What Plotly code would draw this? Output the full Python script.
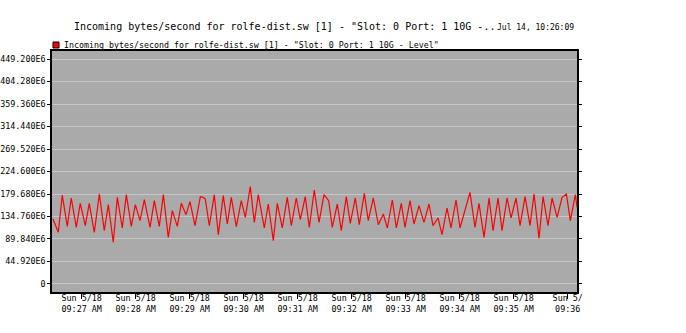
import pandas as pd
import plotly.graph_objects as go

# seconds offset from 09:27:00 and values in units of 1E6 bytes/second
sec = [-32, -26, -21.6, -16, -11.6, -6, -1.6, 4, 8.4, 14, 19.6, 25.1, 29.6, 35.1, 39.6, 45.1, 49.6, 55.1,
       59.6, 64.8, 69.6, 75.9, 80.7, 86.2, 90.7, 96.2, 100.7, 106.2, 110.7, 115.9, 120.3, 125.9, 131.8,
       134.8, 137.3, 141.8, 147.3, 151.8, 157.3, 161.8, 166.2, 171.8, 177.3, 181.8, 187.3, 191.8, 196.2,
       202.9, 207.3, 212.9, 217.3, 222.9, 228.4, 232.9, 238.4, 242.9, 248.4, 252.9, 258.4, 263.7, 269.2,
       272.6, 274.4, 278.4, 284.0, 288.4, 294.0, 298.4, 304.0, 308.4, 314.0, 318.4, 324.0, 329.6, 335.1,
       339.6, 345.1, 349.6, 355.1, 359.2, 364.8, 369.2, 374.8, 380.3, 385.9, 390.3, 395.9, 400.3, 405.9,
       410.3, 415.9, 420.3, 431.4, 437.0, 441.4, 447.0, 452.6, 457.0, 462.6, 467.0, 472.6, 477.0, 482.6,
       487.0, 492.6, 498.1, 502.6, 508.1, 512.6, 518.1, 522.6, 528.2, 533.7, 538.5, 542.9, 548.5, 550.4]
vals = [129.8, 103.2, 177.7, 115.1, 171.7, 113.1, 161.0, 116.5, 161.0, 103.2, 179.7, 106.5, 158.4, 83.2,
        173.0, 111.8, 178.3, 115.1, 158.4, 126.4, 168.4, 113.1, 166.4, 115.1, 178.3, 93.2, 146.4, 115.1,
        161.0, 138.4, 164.4, 116.5, 174.4, 173.0, 169.7, 116.5, 178.3, 98.5, 176.4, 119.8, 173.0, 114.5,
        166.4, 133.1, 194.3, 123.1, 178.3, 111.8, 159.7, 86.5, 161.0, 111.8, 173.0, 116.5, 171.7, 128.4,
        174.4, 113.1, 187.7, 123.1, 178.3, 171.7, 166.4, 113.1, 159.7, 106.5, 174.4, 121.1, 171.7, 118.5,
        181.0, 126.4, 171.7, 118.5, 139.7, 111.8, 167.7, 111.8, 161.0, 113.1, 166.4, 119.8, 156.4, 123.1,
        159.7, 116.5, 131.8, 98.5, 151.7, 111.8, 167.7, 111.8, 183.0, 113.1, 161.0, 93.2, 171.7, 106.5,
        171.7, 106.5, 171.7, 131.8, 171.7, 116.5, 174.4, 116.5, 179.7, 91.2, 174.4, 116.5, 171.7, 133.1,
        173.0, 179.7, 126.4, 178.3, 153.0]

ytick_vals = [0, 44.92, 89.84, 134.76, 179.68, 224.6, 269.52, 314.44, 359.36, 404.28, 449.2]
ytick_text = ["0", "44.920E6", "89.840E6", "134.760E6", "179.680E6", "224.600E6", "269.520E6",
              "314.440E6", "359.360E6", "404.280E6", "449.200E6"]
xtick_minutes = ["09:27", "09:28", "09:29", "09:30", "09:31", "09:32", "09:33", "09:34", "09:35", "09:36"]
xtick_text = ["Sun 5/18<br>09:27 AM", "Sun 5/18<br>09:28 AM", "Sun 5/18<br>09:29 AM", "Sun 5/18<br>09:30 AM",
              "Sun 5/18<br>09:31 AM", "Sun 5/18<br>09:32 AM", "Sun 5/18<br>09:33 AM", "Sun 5/18<br>09:34 AM",
              "Sun 5/18<br>09:35 AM", "Sun 5/<br>09:36"]

title_text = 'Incoming bytes/second for rolfe-dist.sw [1] - "Slot: 0 Port: 1 10G -..'
date_text = "Jul 14, 10:26:09"
legend_text = 'Incoming bytes/second for rolfe-dist.sw [1] - "Slot: 0 Port: 1 10G - Level"'

base = pd.Timestamp("2014-05-18 09:27:00")
n = min(len(sec), len(vals))
xs = [base + pd.Timedelta(seconds=s) for s in sec[:n]]
xtick_vals = [pd.Timestamp("2014-05-18 " + m + ":00") for m in xtick_minutes]

FONT = "DejaVu Sans Mono"

fig = go.Figure()
fig.add_trace(go.Scatter(x=xs, y=vals[:n], mode="lines",
                         line=dict(color="#ff0000", width=1.2), showlegend=False))

fig.update_layout(
    width=686, height=333,
    margin=dict(l=52, r=109, t=51, b=41, autoexpand=False),
    paper_bgcolor="white", plot_bgcolor="#aaaaaa",
    font=dict(family=FONT, size=8.4, color="black"),
    xaxis=dict(type="date", automargin=False,
               range=[base - pd.Timedelta(seconds=33), base + pd.Timedelta(seconds=550.3)],
               tickvals=xtick_vals, ticktext=xtick_text, tickangle=0,
               ticks="outside", ticklen=5, tickcolor="black", tickwidth=1,
               ticklabelstandoff=-8,
               showline=True, linecolor="black", linewidth=1.5, mirror=True,
               showgrid=False, zeroline=False,
               tickfont=dict(family=FONT, size=8.4, color="black")),
    yaxis=dict(range=[-16.0, 465.2], tickvals=ytick_vals, ticktext=ytick_text, automargin=False,
               ticks="outside", ticklen=3, tickcolor="black", tickwidth=1,
               showline=True, linecolor="black", linewidth=1.5, mirror="ticks",
               showgrid=True, gridcolor="#c6c6c6", gridwidth=1, zeroline=False,
               tickfont=dict(family=FONT, size=8.4, color="black")),
    annotations=[
        dict(text=title_text, xref="paper", yref="paper", x=(72 - 52) / 525, y=(292 - 27) / 241,
             xanchor="left", yanchor="middle", showarrow=False,
             font=dict(family=FONT, size=10, color="black")),
        dict(text=date_text, xref="paper", yref="paper", x=(495 - 52) / 525, y=(292 - 28) / 241,
             xanchor="left", yanchor="middle", showarrow=False,
             font=dict(family=FONT, size=8, color="black")),
        dict(text=legend_text, xref="paper", yref="paper", x=(62 - 52) / 525, y=(292 - 44.5) / 241,
             xanchor="left", yanchor="middle", showarrow=False,
             font=dict(family=FONT, size=8.3, color="black")),
    ],
    shapes=[
        dict(type="rect", xref="paper", yref="paper",
             x0=(53 - 52) / 525, x1=(59 - 52) / 525, y0=(292 - 48) / 241, y1=(292 - 42) / 241,
             fillcolor="#ff0000", line=dict(color="black", width=1)),
    ],
)

fig.write_html("out.html")
